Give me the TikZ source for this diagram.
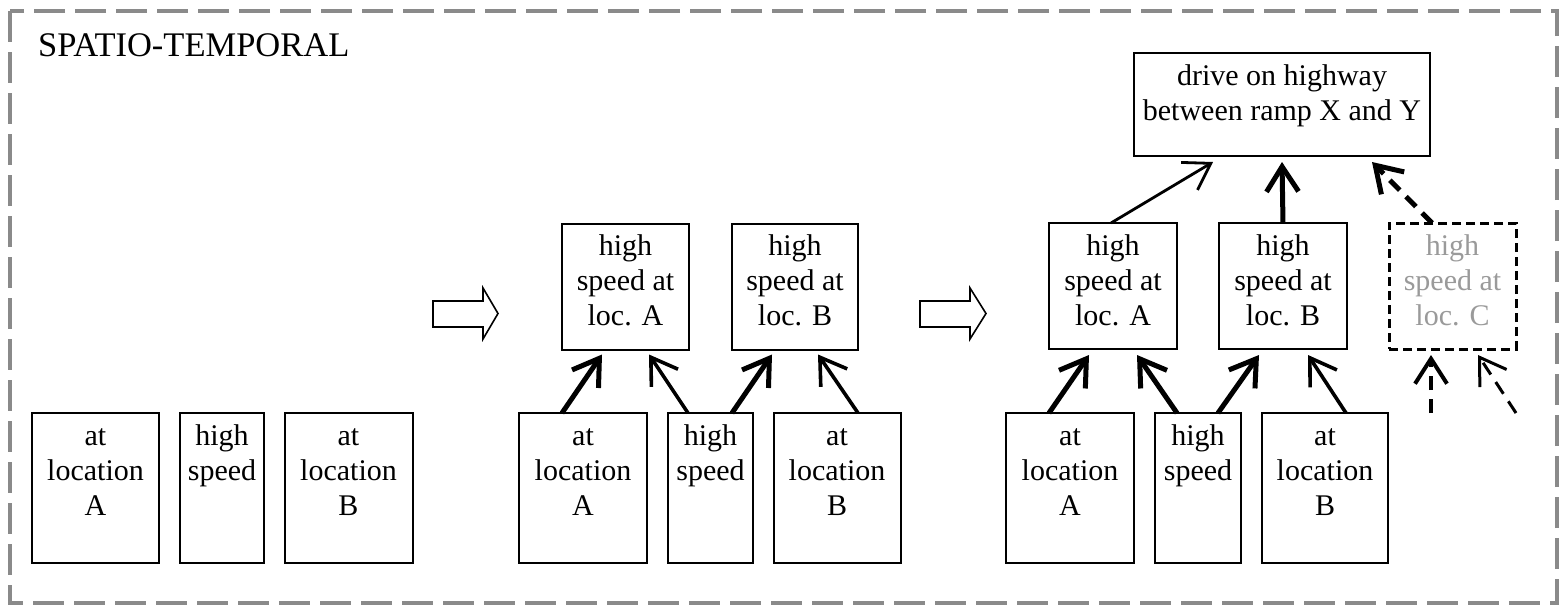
\documentclass[tikz,border=0pt]{standalone}
\usepackage{fontspec}
\setmainfont{Liberation Serif}
\usetikzlibrary{arrows.meta,calc}
\newcommand\boxtext[3]{\parbox[c][#2][t]{#1}{\centering\rule{0pt}{32pt}#3}}
\definecolor{framegray}{HTML}{8A8A8A}
\definecolor{ghost}{HTML}{9A9A9A}
\tikzset{
  box/.style={draw, line width=2pt, inner sep=0pt, outer sep=0pt,
    font=\fontsize{30pt}{35pt}\selectfont},
  ghostbox/.style={box, line width=3pt, dash pattern=on 9pt off 5pt, text=ghost},
  tip/.style={-{Straight Barb[length=25pt,width=32pt]}},
  thickarr/.style={tip, line width=5pt},
  medarr/.style={tip, line width=3.6pt},
  thinarr/.style={tip, line width=2.8pt},
  dasharr/.style={dash pattern=on 14pt off 9pt},
  blockarrow/.style={draw, line width=1.6pt, line join=miter},
}
\begin{document}
\begin{tikzpicture}[x=1pt,y=-1pt]
\useasboundingbox (0,0) rectangle (1564,606);
% outer frame
\draw[framegray, line width=4pt, dash pattern=on 31pt off 10pt] (10,11) rectangle (1557,603);
\node[anchor=base west, inner sep=0pt, font=\fontsize{34.5pt}{40pt}\selectfont] (title) at (38,56) {SPATIO-TEMPORAL};

% left group
\node[box] (LatA) at (95.5,488) {\boxtext{127pt}{150pt}{at\\location\\A}};
\node[box] (Lhs)  at (222,488)  {\boxtext{84pt}{150pt}{high\\speed}};
\node[box] (LatB) at (348.5,488) {\boxtext{128pt}{150pt}{at\\location\\B}};

% block arrow 1
\draw[blockarrow] (433,301) -- (483,301) -- (483,288) -- (498,313.5) -- (483,339) -- (483,327) -- (433,327) -- cycle;

% middle group
\node[box] (MatA) at (583,488)   {\boxtext{128pt}{150pt}{at\\location\\A}};
\node[box] (Mhs)  at (710.5,488) {\boxtext{85pt}{150pt}{high\\speed}};
\node[box] (MatB) at (837,488)   {\boxtext{127pt}{150pt}{at\\location\\B}};
\node[box] (MhsA) at (625.5,286.5) {\boxtext{127pt}{126pt}{high\\speed at\\loc. A}};
\node[box] (MhsB) at (795,286.5)   {\boxtext{126pt}{126pt}{high\\speed at\\loc. B}};

\draw[thickarr] ([xshift=-21pt]MatA.north) -- ([xshift=-23.5pt,yshift=-5pt]MhsA.south);
\draw[medarr]   ([xshift=-22.5pt]Mhs.north) -- ([xshift=23.5pt,yshift=-5pt]MhsA.south);
\draw[thickarr] ([xshift=21.5pt]Mhs.north) -- ([xshift=-23pt,yshift=-5pt]MhsB.south);
\draw[medarr]   ([xshift=21pt]MatB.north) -- ([xshift=23pt,yshift=-5pt]MhsB.south);

% block arrow 2
\draw[blockarrow] (920,301) -- (970,301) -- (970,288) -- (986,313.5) -- (970,339) -- (970,327) -- (920,327) -- cycle;

% right group
\node[box] (RatA) at (1070,488) {\boxtext{128pt}{150pt}{at\\location\\A}};
\node[box] (Rhs)  at (1198,488) {\boxtext{86pt}{150pt}{high\\speed}};
\node[box] (RatB) at (1325,488) {\boxtext{126pt}{150pt}{at\\location\\B}};
\node[box] (RhsA) at (1113,286)   {\boxtext{128pt}{126pt}{high\\speed at\\loc. A}};
\node[box] (RhsB) at (1283,286)   {\boxtext{128pt}{126pt}{high\\speed at\\loc. B}};
\node[ghostbox] (RhsC) at (1452.5,286) {\boxtext{127pt}{126pt}{high\\speed at\\loc. C}};
\node[box] (top) at (1282,104.5) {\boxtext{296pt}{103pt}{drive on highway\\between ramp X and Y}};

\draw[thickarr] ([xshift=-21pt]RatA.north) -- ([xshift=-24pt,yshift=-6pt]RhsA.south);
\draw[thickarr] ([xshift=-21pt]Rhs.north)  -- ([xshift=24pt,yshift=-6pt]RhsA.south);
\draw[thickarr] ([xshift=20pt]Rhs.north)   -- ([xshift=-24pt,yshift=-6pt]RhsB.south);
\draw[medarr]   ([xshift=21pt]RatB.north)  -- ([xshift=25pt,yshift=-6pt]RhsB.south);

\draw[thinarr]  ([xshift=-2pt]RhsA.north) -- ([xshift=-69pt,yshift=-6pt]top.south);
\draw[thickarr] (RhsB.north) -- ([yshift=-6pt]top.south);
\draw[thickarr, dasharr] ([xshift=-20.5pt]RhsC.north) -- ([xshift=90pt,yshift=-6pt]top.south);

\coordinate (inC1) at (1431,413);
\coordinate (inC2) at (1516,413);
\draw[medarr, line width=4pt, dasharr] (inC1) -- ([xshift=-21.5pt,yshift=-6pt]RhsC.south);
\draw[thinarr, line width=3pt, dasharr] (inC2) -- ([xshift=25.5pt,yshift=-6pt]RhsC.south);
\end{tikzpicture}
\end{document}
